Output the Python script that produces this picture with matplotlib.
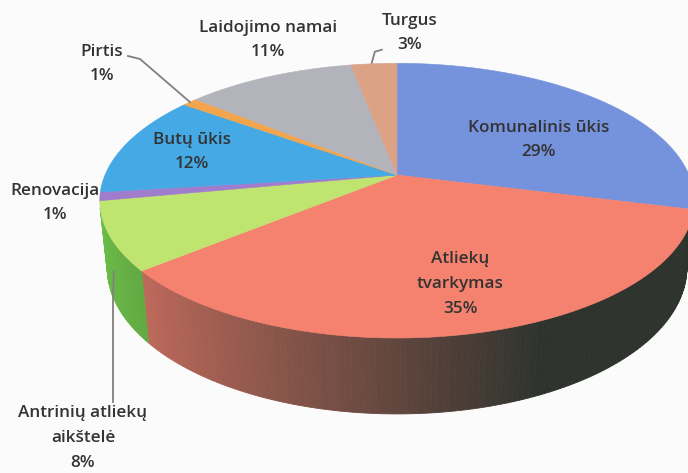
import numpy as np
import matplotlib.pyplot as plt
from matplotlib.patches import Polygon

# slices, clockwise from 12 o'clock
names = ['Komunalinis ūkis', 'Atliekų tvarkymas', 'Antrinių atliekų aikštelė', 'Renovacija',
         'Butų ūkis', 'Pirtis', 'Laidojimo namai', 'Turgus']
shares = [29, 35, 8, 1, 12, 1, 11, 3]
label_text = ['Komunalinis ūkis', 'Atliekų\ntvarkymas', 'Antrinių atliekų\naikštelė', 'Renovacija',
              'Butų ūkis', 'Pirtis', 'Laidojimo namai', 'Turgus']

top_colors = ['#7592dc', '#f5826f', '#c0e470', '#a07ccc', '#45a9e6', '#f2a54c', '#b2b3bb', '#dba286']
side_colors = ['#5a72b8', '#f07c6a', '#74d24a', '#8060b0', '#3080c0', '#c07830', '#8a8a90', '#b07a60']

# label placement (pixel coords)
label_pos = [(539, 140), (460, 284), (83, 438), (55, 203), (192, 152), (102, 64), (268, 40), (410, 33)]

# 3D view of the pie
ELEV = np.radians(27)
DIST = 4.77
SCALE = 292
CX, CY = 397, 175
DEPTH = 0.26


def project(phi, z=0.0):
    x = np.sin(phi)
    y = np.cos(phi)
    v = y * np.sin(ELEV) + z * np.cos(ELEV)
    w = y * np.cos(ELEV) - z * np.sin(ELEV)
    s = DIST / (DIST + w)
    return CX + SCALE * x * s, CY - SCALE * v * s


fig = plt.figure(figsize=(6.88, 4.73), dpi=100)
fig.patch.set_facecolor('#fbfbfb')
ax = fig.add_axes([0, 0, 1, 1])
ax.set_xlim(0, 688)
ax.set_ylim(473, 0)
ax.axis('off')

bounds = np.cumsum([0] + shares) / sum(shares) * 2 * np.pi
vis_lo = np.arccos(-1 / (DIST * np.cos(ELEV)))
vis_hi = 2 * np.pi - vis_lo

# side wall, shaded from light (left) to dark (right)
dark = np.array([0.18, 0.2, 0.18])
for i in range(len(shares)):
    a0, a1 = max(bounds[i], vis_lo), min(bounds[i + 1], vis_hi)
    if a1 <= a0:
        continue
    n = max(2, int(np.degrees(a1 - a0)))
    ph = np.linspace(a0, a1, n + 1)
    base = np.array(plt.matplotlib.colors.to_rgb(side_colors[i]))
    for j in range(n):
        m = 0.5 * (ph[j] + ph[j + 1])
        f = np.clip(0.26 - 0.62 * np.sin(m), 0, 0.92)
        c = f * base + (1 - f) * dark
        pts = [project(ph[j]), project(ph[j + 1]),
               project(ph[j + 1], -DEPTH), project(ph[j], -DEPTH)]
        ax.add_patch(Polygon(pts, closed=True, facecolor=c, edgecolor=c, lw=0.6))

# top face
for i in range(len(shares)):
    ph = np.linspace(bounds[i], bounds[i + 1], 200)
    xs, ys = project(ph)
    pts = [(CX, CY)] + list(zip(xs, ys))
    ax.add_patch(Polygon(pts, closed=True, facecolor=top_colors[i],
                         edgecolor=top_colors[i], lw=0.4))

# labels
txt = dict(ha='center', va='center', fontsize=12.3, color='#333333',
           family='Open Sans', fontweight='semibold', linespacing=1.74)
for i in range(len(shares)):
    ax.text(*label_pos[i], f'{label_text[i]}\n{shares[i]}%', **txt)

# leader lines
line = dict(color='#808080', lw=1.3)
mid = 0.5 * (bounds[:-1] + bounds[1:])
px, py = project(mid[5])
ax.plot([128, 140, px], [56, 59, py], **line)
px, py = project(mid[7])
ax.plot([px - 2, px + 1, px + 8], [py - 1, py - 12, py - 14], **line)
px, py = project(mid[2], -DEPTH / 2)
ax.plot([113, 113, px], [402, 300, py], **line)

fig.savefig('out.png', dpi=100, facecolor=fig.get_facecolor())
